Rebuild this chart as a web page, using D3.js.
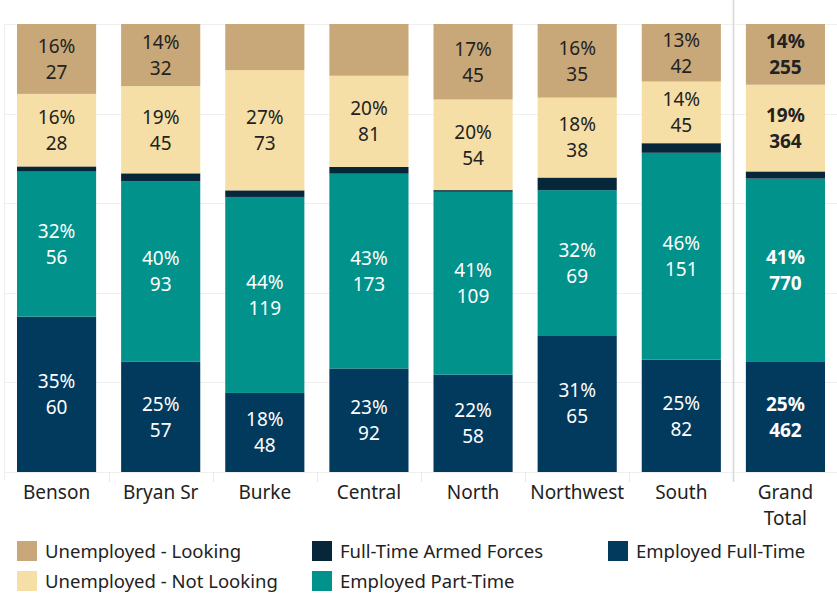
<!DOCTYPE html>
<html>
<head>
<meta charset="utf-8">
<script src="https://cdn.jsdelivr.net/npm/d3@7"></script>
<style>
  body { margin: 0; background: #fff; }
  svg text { font-family: "Noto Sans", "Open Sans", sans-serif; }
</style>
</head>
<body>
<svg id="chart"></svg>
<script>
var width = 837;
var height = 594;

// data
var categories = ["Benson", "Bryan Sr", "Burke", "Central", "North", "Northwest", "South", "Grand Total"];
var fullTime   = [60, 57, 48, 92, 58, 65, 82, 462];
var partTime   = [56, 93, 119, 173, 109, 69, 151, 770];
var armed      = [2, 4, 4, 6, 1, 6, 7, 30];
var notLooking = [28, 45, 73, 81, 54, 38, 45, 364];
var looking    = [27, 32, 28, 46, 45, 35, 42, 255];

var seriesNames = ["Employed Full-Time", "Employed Part-Time", "Full-Time Armed Forces",
                   "Unemployed - Not Looking", "Unemployed - Looking"];
var seriesValues = [fullTime, partTime, armed, notLooking, looking];
var colors = ["#023A5E", "#00928B", "#08263A", "#F6DFA6", "#C8A878"];
var textColors = ["#fff", "#fff", "#fff", "#222", "#222"];

var svg = d3.select("#chart")
            .attr("width", width)
            .attr("height", height)

var plotTop = 24, plotBottom = 472;

var x = d3.scaleBand()
          .domain(categories)
          .range([4.5, 837.5])
          .paddingInner(0.24)
          .paddingOuter(0.12)

var y = d3.scaleLinear()
          .domain([0, 1])
          .range([plotBottom, plotTop])

// build stacked table
var table = categories.map(function(c, i) {
    var row = { cat: c, total: 0 };
    seriesNames.forEach(function(s, j) {
        row[s] = seriesValues[j][i];
        row.total += seriesValues[j][i];
    });
    return row;
});

var stack = d3.stack()
              .keys(seriesNames)
              .value(function(d, key) { return d[key] / d.total; })
var layers = stack(table);

// gridlines
svg.append("g")
   .selectAll("line")
   .data(y.ticks(5))
   .enter().append("line")
   .attr("x1", 4)
   .attr("x2", width)
   .attr("y1", function(d) { return Math.round(y(d)) + 0.5; })
   .attr("y2", function(d) { return Math.round(y(d)) + 0.5; })
   .attr("stroke", "#efefef")
   .attr("stroke-width", 1)

// left edge line
svg.append("line")
   .attr("x1", 4.5).attr("x2", 4.5)
   .attr("y1", plotTop).attr("y2", 480)
   .attr("stroke", "#efefef")

// header dividers below bars
svg.append("g")
   .selectAll("line")
   .data(categories.slice(1))
   .enter().append("line")
   .attr("x1", function(d) { return Math.round(x(d) - x.step() * 0.12) + 0.5; })
   .attr("x2", function(d) { return Math.round(x(d) - x.step() * 0.12) + 0.5; })
   .attr("y1", plotBottom)
   .attr("y2", 482)
   .attr("stroke", "#eaeaea")

// grand total separator
var sepX = Math.round(x("Grand Total") - x.step() * 0.12) + 0.5;
svg.append("line")
   .attr("x1", sepX).attr("x2", sepX)
   .attr("y1", 0).attr("y2", 482)
   .attr("stroke", "#d6d6d6")
   .attr("stroke-width", 1.5)

// bars
var groups = svg.append("g")
    .selectAll("g")
    .data(layers)
    .enter().append("g")
    .attr("fill", function(d, i) { return colors[i]; })

groups.selectAll("rect")
    .data(function(d) { return d; })
    .enter().append("rect")
    .attr("x", function(d) { return x(d.data.cat); })
    .attr("width", x.bandwidth())
    .attr("y", function(d) { return y(d[1]); })
    .attr("height", function(d) { return y(d[0]) - y(d[1]); })

// labels (small segments are left unlabelled, as in the original)
layers.forEach(function(layer, j) {
    var g = svg.append("g");
    layer.forEach(function(d) {
        var pct = d[1] - d[0];
        if (pct < 0.12) return;
        var cx = x(d.data.cat) + x.bandwidth() / 2;
        var cy = (y(d[0]) + y(d[1])) / 2;
        var bold = d.data.cat == "Grand Total" ? "bold" : "normal";
        var lines = [Math.round(pct * 100) + "%", d.data[layer.key]];
        lines.forEach(function(t, k) {
            g.append("text")
             .attr("x", cx)
             .attr("y", cy + (k == 0 ? -13 : 13))
             .attr("dy", "0.36em")
             .attr("text-anchor", "middle")
             .attr("font-size", 19)
             .attr("font-weight", bold)
             .attr("fill", textColors[j])
             .text(t)
        });
    });
});

// x labels
var xl = svg.append("g")
xl.selectAll("text")
  .data(categories)
  .enter().append("text")
  .attr("x", function(d) { return x(d) + x.bandwidth() / 2; })
  .attr("y", 499)
  .attr("text-anchor", "middle")
  .attr("font-size", 19)
  .attr("fill", "#222")
  .each(function(d) {
      var words = d == "Grand Total" ? ["Grand", "Total"] : [d];
      var t = d3.select(this);
      words.forEach(function(w, i) {
          t.append("tspan")
           .attr("x", x(d) + x.bandwidth() / 2)
           .attr("dy", i == 0 ? 0 : 26)
           .text(w)
      });
  })

// legend
var legendItems = [
    { name: "Unemployed - Looking", col: 0, row: 0 },
    { name: "Unemployed - Not Looking", col: 0, row: 1 },
    { name: "Full-Time Armed Forces", col: 1, row: 0 },
    { name: "Employed Part-Time", col: 1, row: 1 },
    { name: "Employed Full-Time", col: 2, row: 0 }
];
var colX = [17, 312, 608];

var legend = svg.append("g")
    .selectAll("g")
    .data(legendItems)
    .enter().append("g")
    .attr("transform", function(d) { return "translate(" + colX[d.col] + "," + (541 + d.row * 30) + ")"; })

legend.append("rect")
      .attr("width", 20)
      .attr("height", 20)
      .attr("fill", function(d) { return colors[seriesNames.indexOf(d.name)]; })

legend.append("text")
      .attr("x", 28)
      .attr("y", 17)
      .attr("font-size", 18.5)
      .attr("fill", "#222")
      .text(function(d) { return d.name; })
</script>
</body>
</html>
